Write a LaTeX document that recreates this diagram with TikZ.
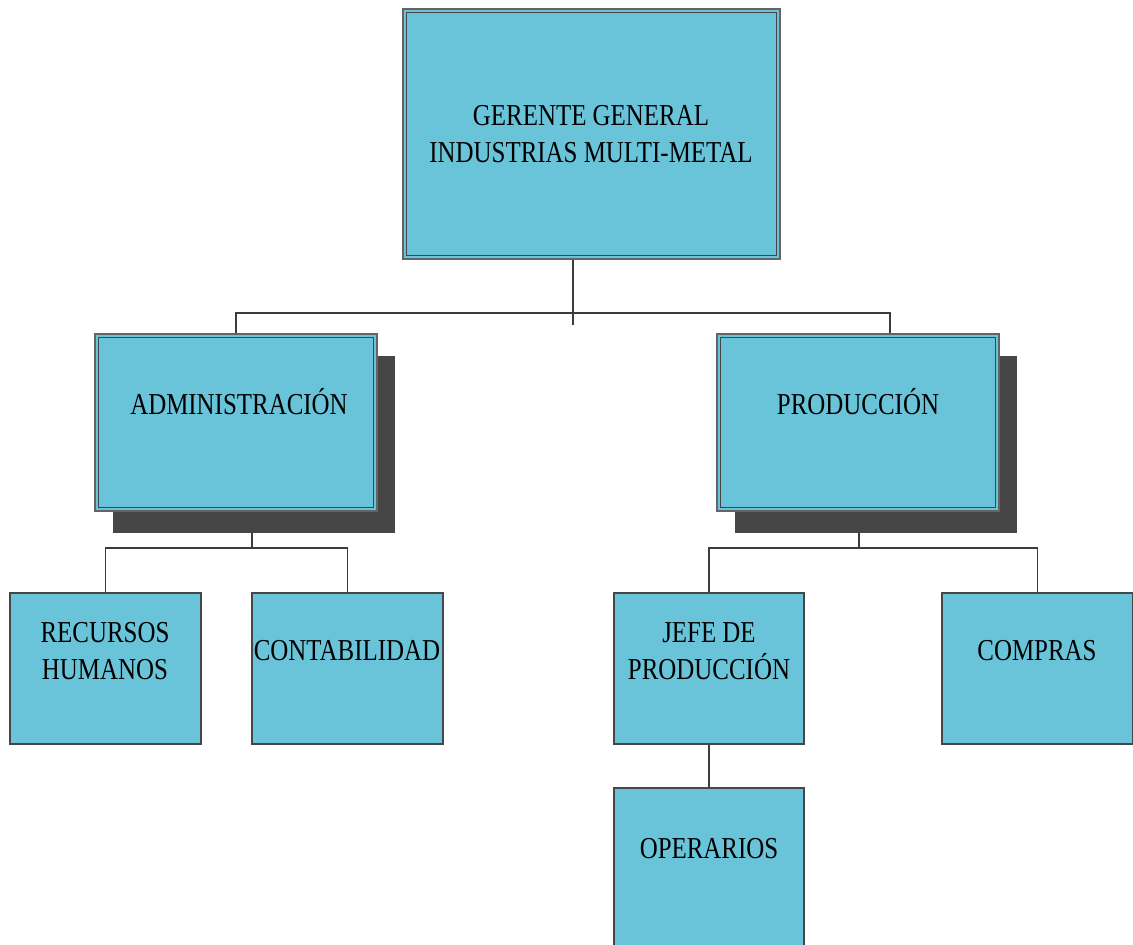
\documentclass[tikz,border=0pt]{standalone}
\usepackage{fontspec}
\setmainfont{Liberation Serif}[FakeStretch=0.82]
\usetikzlibrary{shadows,calc}
\definecolor{boxfill}{RGB}{105,196,218}
\definecolor{outerline}{RGB}{100,100,100}
\definecolor{innerline}{RGB}{70,70,70}
\definecolor{shadowgray}{RGB}{70,70,70}
\definecolor{wire}{RGB}{60,60,60}
\tikzset{
  unitbox/.style={draw=innerline, fill=boxfill, line width=0.7pt, inner sep=0pt},
  framedbox/.style={draw=outerline, fill=boxfill, line width=0.7pt, inner sep=0pt},
  shadowed/.style={drop shadow={shadow xshift=8.75pt, shadow yshift=-10.75pt, fill=shadowgray, opacity=1}},
  label/.style={anchor=base, inner sep=0pt, font=\fontsize{15.2}{18.5}\selectfont},
  wireline/.style={draw=wire, line width=0.7pt},
}
% second frame line drawn inside a framed box
\newcommand{\innerframe}[1]{%
  \draw[innerline, line width=0.7pt] ($(#1.north west)+(4,4)$) rectangle ($(#1.south east)+(-4,-4)$);}
\newcommand{\twolines}[2]{\begin{tabular}[t]{@{}c@{}}#1\\#2\end{tabular}}
\begin{document}
\begin{tikzpicture}[x=0.5pt,y=-0.5pt]
\clip (0,0) rectangle (1133,944);
\fill[white] (0,0) rectangle (1133,944);

% top level
\node[framedbox, minimum width=188.5pt, minimum height=125pt] (gen) at (591.5,134) {};
\innerframe{gen}
\node[label] (gentxt) at (591,125) {\twolines{GERENTE GENERAL}{INDUSTRIAS MULTI-METAL}};

% departments
\node[framedbox, shadowed, minimum width=141pt, minimum height=88.5pt] (adm) at (236,422.5) {};
\innerframe{adm}
\node[label] (admtxt) at (239,414) {ADMINISTRACIÓN};

\node[framedbox, shadowed, minimum width=141pt, minimum height=88.5pt] (prod) at (858,422.5) {};
\innerframe{prod}
\node[label] (prodtxt) at (858,414) {PRODUCCIÓN};

% units
\node[unitbox, minimum width=95.5pt, minimum height=75.5pt] (rh) at (105.5,668.5) {};
\node[label] (rhtxt) at (105,642) {\twolines{RECURSOS}{HUMANOS}};

\node[unitbox, minimum width=95.5pt, minimum height=75.5pt] (cont) at (347.5,668.5) {};
\node[label] (conttxt) at (347,660) {CONTABILIDAD};

\node[unitbox, minimum width=95pt, minimum height=75.5pt] (jefe) at (709,668.5) {};
\node[label] (jefetxt) at (709,642) {\twolines{JEFE DE}{PRODUCCIÓN}};

\node[unitbox, minimum width=95.5pt, minimum height=75.5pt] (comp) at (1037.5,668.5) {};
\node[label] (comptxt) at (1037,660) {COMPRAS};

\node[unitbox, minimum width=95pt, minimum height=90pt] (oper) at (709,878) {};
\node[label] (opertxt) at (709,858) {OPERARIOS};

% connectors
\coordinate (hub) at (573,313);
\coordinate (prodtap) at (890,313);
\coordinate (admhub) at (252,548);
\coordinate (prodhub) at (859,548);

\draw[wireline] (gen.south -| hub) -- (hub) -- ++(0,12);
\draw[wireline] (adm.north) |- (hub) -- (prodtap) -- (prodtap |- prod.north);

\draw[wireline] (admhub) -- ++(0,-15);
\draw[wireline] (rh.north) |- (admhub) -| (cont.north);

\draw[wireline] (prod.south -| prodhub) ++(0,21) -- (prodhub);
\draw[wireline] (jefe.north) |- (prodhub) -| (comp.north);

\draw[wireline] (jefe.south) -- (oper.north);
\end{tikzpicture}
\end{document}
